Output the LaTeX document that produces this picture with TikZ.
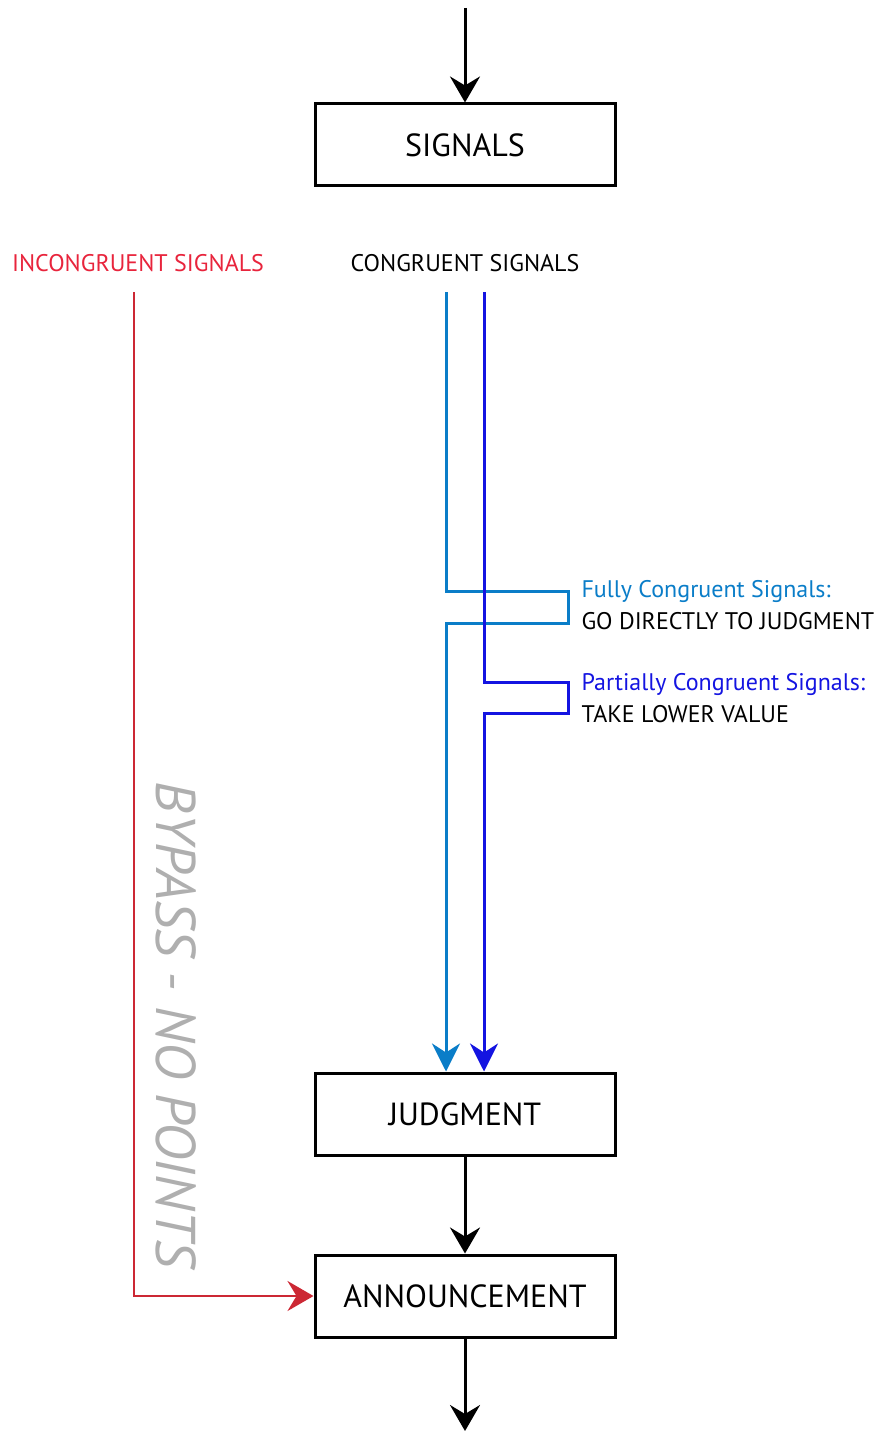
\documentclass[tikz,border=0pt]{standalone}
\usepackage{fontspec}
\setmainfont{PT Sans}
\usetikzlibrary{arrows.meta}

\definecolor{incred}{RGB}{232,36,60}
\definecolor{linered}{RGB}{204,40,52}
\definecolor{fullblue}{RGB}{10,125,200}
\definecolor{partblue}{RGB}{20,20,225}
\definecolor{bypassgray}{RGB}{175,175,175}

\begin{document}
\begin{tikzpicture}[x=1pt,y=-1pt,
    stepbox/.style={draw,line width=3pt,minimum width=300pt,minimum height=82pt,
        font=\fontsize{32}{36}\selectfont},
    flow/.style={line width=3pt,-{Stealth[length=26pt,width=30pt,inset=9pt]}},
    label/.style={font=\fontsize{24}{28}\selectfont},
    lane/.style={line width=3pt}]
    \useasboundingbox (0,0) rectangle (881,1431);

    % boxes
    \node[stepbox] (signals) at (465,145) {SIGNALS};
    \node[stepbox] (judgment) at (465,1114) {JUDGMENT};
    \node[stepbox] (announce) at (465,1296) {ANNOUNCEMENT};

    % headings
    \node[label,text=incred] (incong) at (138,263) {INCONGRUENT SIGNALS};
    \node[label] (cong) at (465,263) {CONGRUENT SIGNALS};

    % side notes
    \node[label,text=fullblue,anchor=west] (fullnote) at (578,591) {Fully Congruent Signals:};
    \node[label,anchor=west] (fullrule) at (578,621) {GO DIRECTLY TO JUDGMENT};
    \node[label,text=partblue,anchor=west] (partnote) at (578,684) {Partially Congruent Signals:};
    \node[label,anchor=west] (partrule) at (578,714) {TAKE LOWER VALUE};
    \node[rotate=-90,text=bypassgray,font=\fontsize{56}{62}\itshape\selectfont] (bypass) at (176,1025) {BYPASS - NO POINTS};

    \coordinate (in) at (465,8);
    \coordinate (out) at (465,1431);
    \coordinate (redtop) at (134,292);
    \coordinate (fulltop) at (446,292);
    \coordinate (parttop) at (484,292);

    % main flow
    \draw[flow] (in) -- (signals);
    \draw[flow] (judgment) -- (announce);
    \draw[flow] (announce) -- (out);

    % bypass
    \draw[lane,line width=2.5pt,linered,-{Stealth[length=26pt,width=30pt,inset=9pt]}] (redtop) |- (announce.west);

    % congruent lanes
    \draw[lane,fullblue,-{Stealth[length=28pt,width=28pt,inset=9pt]}] (fulltop) -- (446,591) -- (568,591) -- (568,623) -- (446,623) -- (judgment.north -| fulltop);
    \draw[lane,partblue,-{Stealth[length=28pt,width=28pt,inset=9pt]}] (parttop) -- (484,682) -- (568,682) -- (568,713) -- (484,713) -- (judgment.north -| parttop);
\end{tikzpicture}
\end{document}
